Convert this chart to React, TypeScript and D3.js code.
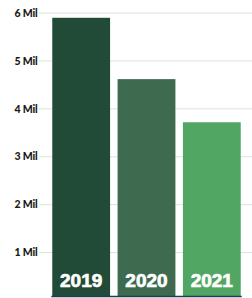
import React, { useEffect, useRef } from "react";
import * as d3 from "d3";

const years = ["2019", "2020", "2021"];
const revenue = [5.9, 4.62, 3.72]; // millions
const barColors = ["#224b37", "#3e6b4f", "#52a664"];
const tickValues = [1, 2, 3, 4, 5, 6];

const width = 252;
const height = 298;

const App = () => {
  const ref = useRef<SVGSVGElement>(null);

  useEffect(() => {
    const svg = d3.select(ref.current);
    svg.selectAll("*").remove();

    const baseY = 296.5;
    const yScale = d3.scaleLinear().domain([0, 6]).range([300.5, 13]);
    const xScale = d3
      .scaleBand()
      .domain(years)
      .range([49, 244])
      .paddingInner(0.115)
      .paddingOuter(0.05);

    // grid + tick labels
    const grid = svg.append("g");
    grid
      .selectAll("line")
      .data(tickValues)
      .enter()
      .append("line")
      .attr("x1", 39)
      .attr("x2", width)
      .attr("y1", (d) => yScale(d))
      .attr("y2", (d) => yScale(d))
      .attr("stroke", "#e0e0e0")
      .attr("stroke-width", 1);

    grid
      .selectAll("text")
      .data(tickValues)
      .enter()
      .append("text")
      .attr("x", 37.5)
      .attr("y", (d) => yScale(d))
      .attr("dy", "0.35em")
      .attr("text-anchor", "end")
      .attr("font-family", "Lato, 'Open Sans', sans-serif")
      .attr("font-weight", 900)
      .attr("font-size", 10.5)
      .attr("letter-spacing", -0.2)
      .attr("fill", "#1a1a1a")
      .text((d) => `${d} Mil`);

    // bars
    const bars = svg.append("g");
    bars
      .selectAll("rect")
      .data(revenue)
      .enter()
      .append("rect")
      .attr("x", (d, i) => xScale(years[i])!)
      .attr("y", (d) => yScale(d))
      .attr("width", xScale.bandwidth())
      .attr("height", (d) => baseY - yScale(d))
      .attr("fill", (d, i) => barColors[i]);

    bars
      .selectAll("text")
      .data(years)
      .enter()
      .append("text")
      .attr("x", (d) => xScale(d)! + xScale.bandwidth() / 2)
      .attr("y", 287)
      .attr("text-anchor", "middle")
      .attr("font-family", "'Liberation Sans', Arial, sans-serif")
      .attr("font-weight", "bold")
      .attr("font-size", 19)
      .attr("fill", "#ffffff")
      .attr("stroke", "#ffffff")
      .attr("stroke-width", 0.7)
      .text((d) => d);

    // base line
    svg
      .append("line")
      .attr("x1", xScale(years[0])! - 1)
      .attr("x2", xScale(years[years.length - 1])! + xScale.bandwidth() + 1)
      .attr("y1", baseY)
      .attr("y2", baseY)
      .attr("stroke", "#1c3a5a")
      .attr("stroke-width", 1.5);
  }, []);

  return (
    <svg
      ref={ref}
      width={width}
      height={height}
      style={{ position: "absolute", left: 0, top: 0, background: "#fff" }}
    ></svg>
  );
};

export default App;
